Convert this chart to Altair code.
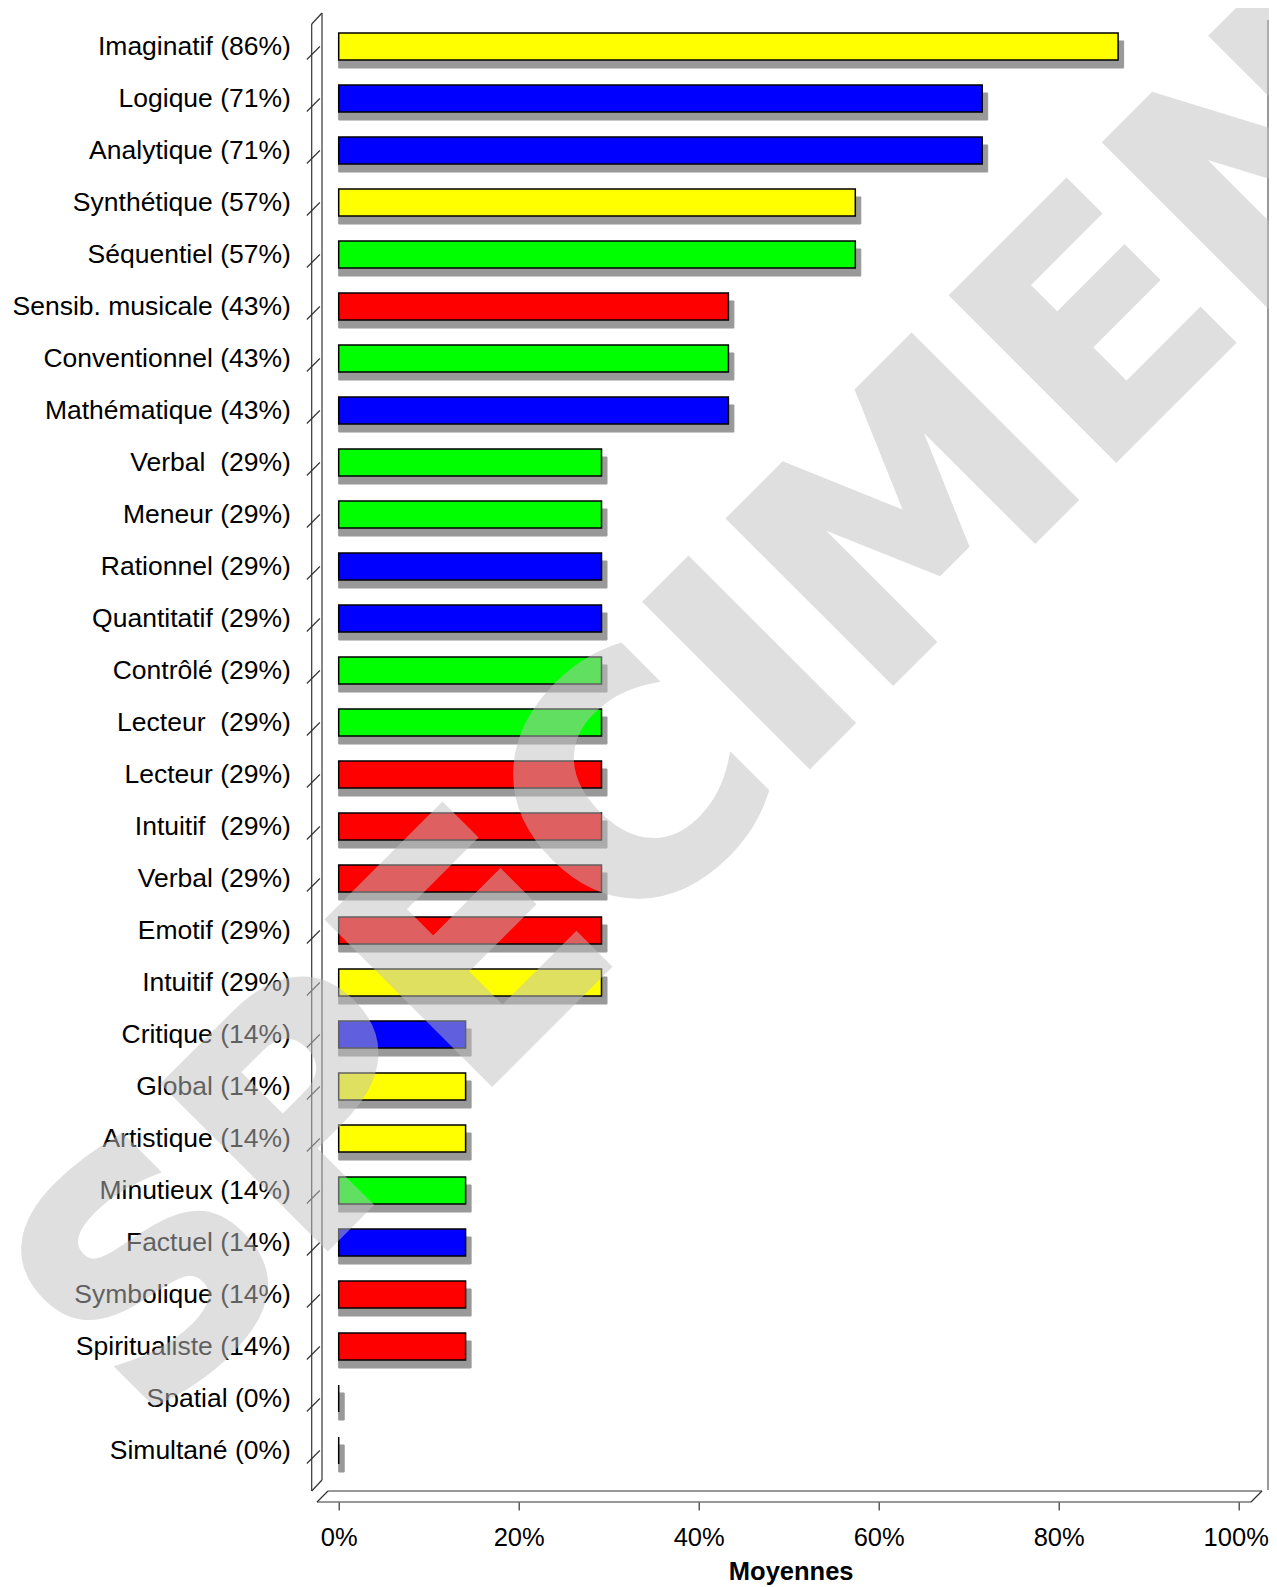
import altair as alt
import pandas as pd

# ---------------- data ----------------
labels = [
    "Imaginatif (86%)", "Logique (71%)", "Analytique (71%)", "Synthétique (57%)",
    "Séquentiel (57%)", "Sensib. musicale (43%)", "Conventionnel (43%)",
    "Mathématique (43%)", "Verbal\u00a0 (29%)", "Meneur (29%)", "Rationnel (29%)",
    "Quantitatif (29%)", "Contrôlé (29%)", "Lecteur\u00a0 (29%)", "Lecteur (29%)",
    "Intuitif\u00a0 (29%)", "Verbal (29%)", "Emotif (29%)", "Intuitif (29%)",
    "Critique (14%)", "Global (14%)", "Artistique (14%)", "Minutieux (14%)",
    "Factuel (14%)", "Symbolique (14%)", "Spiritualiste (14%)", "Spatial (0%)",
    "Simultané (0%)",
]
values = [
    0.866, 0.715, 0.715, 0.574, 0.574, 0.433, 0.433, 0.433,
    0.292, 0.292, 0.292, 0.292, 0.292, 0.292, 0.292, 0.292, 0.292, 0.292, 0.292,
    0.141, 0.141, 0.141, 0.141, 0.141, 0.141, 0.141,
    0.0, 0.0,
]
colors = [
    "#FFFF00", "#0000FF", "#0000FF", "#FFFF00", "#00FF00", "#FF0000", "#00FF00",
    "#0000FF", "#00FF00", "#00FF00", "#0000FF", "#0000FF", "#00FF00", "#00FF00",
    "#FF0000", "#FF0000", "#FF0000", "#FF0000", "#FFFF00", "#0000FF", "#FFFF00",
    "#FFFF00", "#00FF00", "#0000FF", "#FF0000", "#FF0000", "#00FF00", "#00FF00",
]
x_ticks = [0, 0.2, 0.4, 0.6, 0.8, 1.0]
watermark = ["SPECIMEN"]
axis_title = "Moyennes"

df = pd.DataFrame({"label": labels, "value": values, "color": colors})
wm = pd.DataFrame({"t": watermark})
one = pd.DataFrame({"k": [0]})

FONT = "Liberation Sans"
LINE = "#333333"

x_enc = alt.X(
    "value:Q",
    scale=alt.Scale(domain=[0, 1], nice=False, zero=True),
    stack=None,
    axis=alt.Axis(
        values=x_ticks, format="%", domain=False, grid=False,
        ticks=True, tickSize=8, tickColor=LINE, tickWidth=1.2,
        offset=25.5, labelFont=FONT, labelFontSize=25.5, labelColor="black",
        labelPadding=15, labelFlush=False,
        labelOffset={"condition": {"test": "datum.value == 1", "value": -3}, "value": 0},
        title=axis_title, titleFont=FONT, titleFontSize=25.5,
        titleFontWeight="bold", titleColor="black",
        titleBaseline="alphabetic", titleY=77, titleX=452,
    ),
)
y_enc = alt.Y(
    "label:N",
    sort=labels,
    scale=alt.Scale(domain=labels, paddingInner=0.48, paddingOuter=0.24),
    axis=alt.Axis(
        domain=False, ticks=False, tickSize=0, grid=False, title=None,
        labelPadding=48.3, labelFont=FONT, labelFontSize=26.5,
        labelColor="black", labelLimit=500,
    ),
)

base = alt.Chart(df)

shadow = base.mark_bar(
    color="#999999", stroke="#999999", strokeWidth=1,
    xOffset=5.5, x2Offset=5.5, yOffset=8, y2Offset=8,
).encode(x=x_enc, y=y_enc)

bars = base.mark_bar(stroke="black", strokeWidth=1.5).encode(
    x=x_enc, y=y_enc, fill=alt.Fill("color:N", scale=None),
)

slashes = base.mark_point(
    shape="M-1,1L1,-1", size=169, filled=False, stroke=LINE,
    strokeWidth=1.2, opacity=1, yOffset=6.5,
).encode(y=y_enc, x=alt.value(-25.35))


def seg(x1, y1, x2, y2, color=LINE, w=1.2):
    return alt.Chart(one).mark_rule(stroke=color, strokeWidth=w).encode(
        x=alt.value(x1), x2=alt.value(x2), y=alt.value(y1), y2=alt.value(y2)
    )


frame = [
    seg(-27, 3.5, -27, 1470.5),          # outer left wall
    seg(-16.7, -7.5, -16.7, 1459.5),     # inner left wall
    seg(-27, 3.5, -16.7, -7.5),          # top diagonal
    seg(-27, 1470.5, -16.7, 1459.5),     # bottom diagonal
    seg(-10.7, 1470.5, 923.3, 1470.5),   # floor back
    seg(-21.7, 1481.5, 912.3, 1481.5),   # floor front
    seg(-21.7, 1481.5, -10.7, 1470.5),   # floor left diag
    seg(912.3, 1481.5, 923.3, 1470.5),   # floor right diag
    seg(929.3, -0.5, 929.3, 1469.5, color="#555555"),  # right wall
]

mark_wm = alt.Chart(wm).mark_text(
    font="DejaVu Sans", fontWeight="bold", fontSize=317, angle=315,
    align="center", baseline="alphabetic", color="#C0C0C0",
    stroke="#C0C0C0", strokeWidth=6, strokeJoin="miter", opacity=0.5,
).encode(x=alt.value(452.4), y=alt.value(763.4), text="t:N")

chart = alt.layer(*frame, shadow, bars, slashes, mark_wm).properties(
    width=900,
    height=1456,
    padding={"left": 330.7, "top": 12.5, "right": 30.3, "bottom": 110.5},
    autosize=alt.AutoSizeParams(type="none"),
    background="white",
).configure_view(stroke=None)

chart.save("out.html", embed_options={"renderer": "svg", "actions": False})
